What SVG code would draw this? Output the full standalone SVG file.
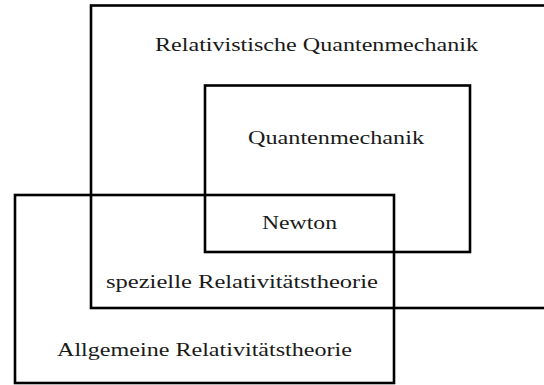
<svg xmlns="http://www.w3.org/2000/svg" width="544" height="385" viewBox="0 0 544 385">
<style>
.box{fill:none;stroke:#000;stroke-width:2.6}
.lbl{font-family:"Liberation Serif","DejaVu Serif",serif;font-size:18px;fill:#1a1a1a;text-anchor:middle}
</style>
<rect width="544" height="385" fill="#fff"/>
<g id="relativistische-qm">
<rect class="box" x="91" y="5.5" width="456" height="302.5"/>
<text class="lbl" x="316.5" y="50.5" textLength="323" lengthAdjust="spacingAndGlyphs">Relativistische Quantenmechanik</text>
</g>
<g id="quantenmechanik">
<rect class="box" x="205" y="85.5" width="265" height="166.5"/>
<text class="lbl" x="336" y="143.5" textLength="176" lengthAdjust="spacingAndGlyphs">Quantenmechanik</text>
</g>
<g id="allgemeine-rt">
<rect class="box" x="15" y="195" width="379" height="188"/>
<text class="lbl" x="204.5" y="355.5" textLength="295" lengthAdjust="spacingAndGlyphs">Allgemeine Relativitätstheorie</text>
</g>
<g id="newton">
<text class="lbl" x="299.5" y="229" textLength="75" lengthAdjust="spacingAndGlyphs">Newton</text>
</g>
<g id="spezielle-rt">
<text class="lbl" x="242" y="287.5" textLength="272" lengthAdjust="spacingAndGlyphs">spezielle Relativitätstheorie</text>
</g>
<g id="connectors"></g>
</svg>
